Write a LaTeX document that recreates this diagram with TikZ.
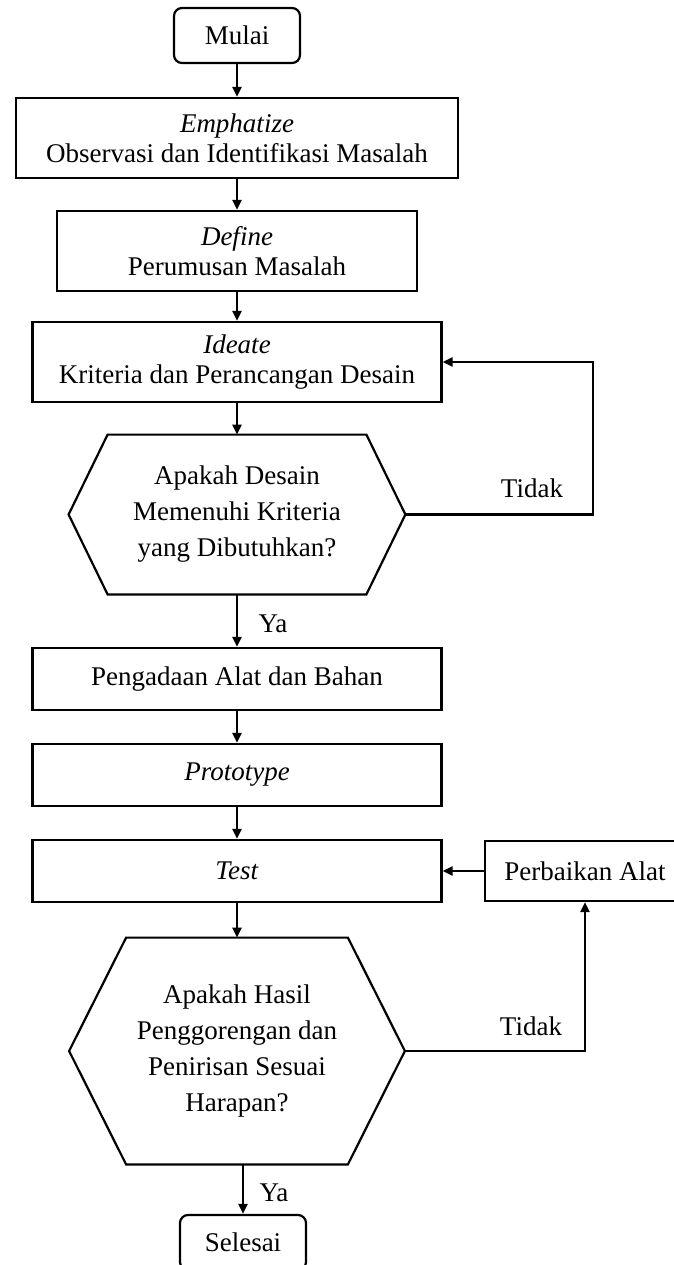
\documentclass[tikz,border=0pt]{standalone}
\usepackage{fontspec}
\setmainfont{Liberation Serif}
\usetikzlibrary{arrows.meta}

\begin{document}
\begin{tikzpicture}[x=0.5pt,y=-0.5pt,
    box/.style={draw,line width=1.1pt,align=center,inner sep=0pt,font=\fontsize{13.5}{15}\selectfont},
    endbox/.style={box,rounded corners=4pt,minimum width=63pt,minimum height=27.5pt},
    wide/.style={box,minimum width=204.5pt,minimum height=31pt},
    decision/.style={align=center,inner sep=0pt,font=\fontsize{13.5}{18}\selectfont},
    answer/.style={font=\fontsize{13.5}{15}\selectfont},
    flow/.style={line width=1.1pt,-{Triangle[length=5pt,width=4.5pt]}}]
            \useasboundingbox (0,0) rectangle (674,1265);
            % Start
            \node[endbox] (mulai) at (237,35.5) {Mulai};
            % Design thinking steps
            \node[box,minimum width=221pt,minimum height=40pt] (emphatize) at (237,138)
                {\textit{Emphatize}\\Observasi dan Identifikasi Masalah};
            \node[box,minimum width=180pt,minimum height=40pt] (define) at (237,251)
                {\textit{Define}\\Perumusan Masalah};
            \node[box,minimum width=204.5pt,minimum height=40pt] (ideate) at (237,362)
                {\textit{Ideate}\\Kriteria dan Perancangan Desain};
            % First decision
            \node[decision,minimum width=168pt,minimum height=79.5pt] (q1) at (237,514.5)
                {Apakah Desain\\Memenuhi Kriteria\\yang Dibutuhkan?};
            \node[wide] (pengadaan) at (237,679) {Pengadaan Alat dan Bahan};
            \node[wide] (prototype) at (237,775) {\textit{Prototype}};
            \node[wide] (test) at (237,871) {\textit{Test}};
            \node[box,minimum width=100pt,minimum height=30pt] (perbaikan) at (585,871) {Perbaikan Alat};
            % Second decision
            \node[decision,minimum width=167.5pt,minimum height=113pt] (q2) at (237,1051)
                {Apakah Hasil\\Penggorengan dan\\Penirisan Sesuai\\Harapan?};
            % End
            \node[endbox] (selesai) at (243,1242.5) {Selesai};
            % Hexagon outlines
            \foreach \q/\d in {q1/19.5pt,q2/28.5pt}
                \draw[line width=1.1pt] ([xshift=\d]\q.north west) -- ([xshift=-\d]\q.north east) -- (\q.east)
                    -- ([xshift=-\d]\q.south east) -- ([xshift=\d]\q.south west) -- (\q.west) -- cycle;
            % Main flow
            \foreach \a/\b in {mulai/emphatize,emphatize/define,define/ideate,ideate/q1,
                               q1/pengadaan,pengadaan/prototype,prototype/test,test/q2}
                \draw[flow] (\a) -- (\b);
            \draw[flow] (selesai.north |- q2.south) -- (selesai.north);
            % Loops back
            \coordinate (loop1) at (593,362);
            \draw[flow] (q1.east) -| (loop1) -- (ideate.east);
            \draw[flow] (q2.east) -| (perbaikan.south);
            \draw[flow] (perbaikan) -- (test);
            % Answers
            \node[answer] (tidak1) at (532,488) {Tidak};
            \node[answer] (ya1) at (273,624) {Ya};
            \node[answer] (tidak2) at (531,1026) {Tidak};
            \node[answer] (ya2) at (274,1193) {Ya};
        \end{tikzpicture}
\end{document}
